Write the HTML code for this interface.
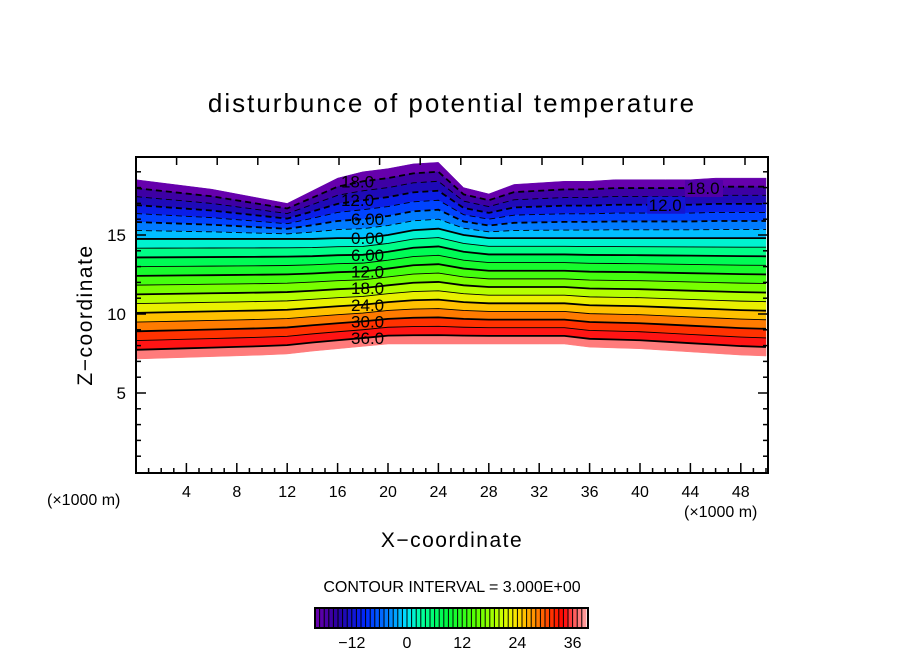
<!DOCTYPE html>
<html><head><meta charset="utf-8"><style>
body{margin:0;background:#fff;}
svg text{font-family:"Liberation Sans",sans-serif;fill:#000;}
</style></head><body>
<svg id="c" width="904" height="654" xmlns="http://www.w3.org/2000/svg">
<text x="452" y="112" text-anchor="middle" font-size="26" letter-spacing="2">disturbunce of potential temperature</text>
<g id="field"></g>
<g id="lines"></g>
<g id="labels"></g>
<rect x="136" y="157" width="632" height="316" fill="none" stroke="#000" stroke-width="2"/>
<g id="axes"></g>
<text transform="translate(92,315) rotate(-90)" text-anchor="middle" font-size="21" letter-spacing="1.5">Z−coordinate</text>
<text x="452" y="547" text-anchor="middle" font-size="21" letter-spacing="1.5">X−coordinate</text>
<text x="47" y="505" font-size="16">(×1000 m)</text>
<text x="684" y="517" font-size="16">(×1000 m)</text>
<text x="452" y="592" text-anchor="middle" font-size="16">CONTOUR INTERVAL = 3.000E+00</text>
<g id="cbar"></g>
</svg>
<script>
// x positions (km) and field-shape data (km heights)
const xs = [0,2,4,6,8,10,12,14,16,18,20,22,24,26,28,30,32,34,36,38,40,42,44,46,48,50];
const topZ = [18.5,18.3,18.1,17.9,17.6,17.3,17.0,17.8,18.6,19.0,19.2,19.5,19.6,18.0,17.6,18.2,18.3,18.4,18.4,18.5,18.5,18.5,18.5,18.6,18.6,18.6];
const zeroZ = [14.75,14.75,14.75,14.75,14.75,14.75,14.75,14.75,14.8,14.8,15.0,15.3,15.4,15.0,14.8,14.8,14.8,14.8,14.8,14.8,14.8,14.8,14.8,14.8,14.8,14.8];
const botZ = [7.15,7.2,7.25,7.3,7.35,7.4,7.47,7.65,7.8,7.95,8.1,8.1,8.1,8.1,8.1,8.1,8.1,8.1,7.9,7.85,7.8,7.7,7.6,7.5,7.4,7.34];
const levels = [-21,-18,-15,-12,-9,-6,-3,0,3,6,9,12,15,18,21,24,27,30,33,36,39];
const labelLevels = [-18,-12,-6,0,6,12,18,24,30,36];
const labelText = ["18.0","12.0","6.00","0.00","6.00","12.0","18.0","24.0","30.0","36.0"];
const xTicks = [4,8,12,16,20,24,28,32,36,40,44,48];
const yTicks = [5,10,15];
const cbarTicks = [-12,0,12,24,36];
const NS='http://www.w3.org/2000/svg';
const X0=136,PX=12.6,Y0=472,PY=15.8;
const sx=k=>X0+k*PX, sy=z=>Y0-z*PY;
const stops=[[-21,[122,0,176]],[-15,[40,0,160]],[-9,[0,40,255]],[-3,[0,150,255]],[0,[0,230,255]],[3,[0,255,160]],[9,[0,250,60]],[15,[90,255,0]],[21,[210,255,0]],[24,[255,225,0]],[27,[255,160,0]],[31,[255,60,0]],[34,[255,0,0]],[36,[255,80,80]],[39,[255,165,165]]];
function col(v){for(let i=0;i<stops.length-1;i++){const[a,ca]=stops[i],[b,cb]=stops[i+1];if(v<=b){const t=Math.max(0,(v-a)/(b-a));return 'rgb('+ca.map((c,j)=>Math.round(c+(cb[j]-c)*t)).join(',')+')';}}return 'rgb(255,165,165)';}
function zAt(i,v){return v<=0? zeroZ[i]+(topZ[i]-zeroZ[i])*(-v/21) : zeroZ[i]-(zeroZ[i]-botZ[i])*(v/39);}
function pts(v){return xs.map((x,i)=>[Math.min(sx(x),768),sy(zAt(i,v))]);}
function mk(tag,attrs,parent){const e=document.createElementNS(NS,tag);for(const k in attrs)e.setAttribute(k,attrs[k]);parent.appendChild(e);return e;}
const field=document.getElementById('field'),lines=document.getElementById('lines'),labels=document.getElementById('labels'),axes=document.getElementById('axes'),cbar=document.getElementById('cbar');
for(let l=0;l<levels.length-1;l++){
  const a=pts(levels[l]),b=pts(levels[l+1]).reverse();
  const p=mk('polygon',{points:a.concat(b).map(q=>q.join(',')).join(' '),fill:col((levels[l]+levels[l+1])/2),stroke:col((levels[l]+levels[l+1])/2),'stroke-width':0.5},field);
  
  
}
levels.slice(1,-1).forEach(v=>{
  const thick=(v%6===0);
  const a={points:pts(v).map(q=>q.join(',')).join(' '),fill:'none',stroke:'#000','stroke-width':thick?1.8:0.9};
  if(v<0)a['stroke-dasharray']='6,4';
  const pl=mk('polyline',a,lines);
  
  
});
labelLevels.forEach((v,i)=>{
  const k=v<=-12?17.5:18.3;
  const idx=xs.indexOf(18);
  const y=sy(zAt(idx,v))+6;
  const t=mk('text',{x:sx(k)+1,y:y,'text-anchor':'middle','font-size':17},labels);
  t.textContent=labelText[i];
  
  
});
[[-18,45],[-12,42]].forEach(([v,k])=>{
  const i=xs.indexOf(44);
  const y=sy(zAt(i,v))+6;
  mk('rect',{x:sx(k)-18,y:y-14,width:38,height:17,fill:col(v)},labels);
  const t=mk('text',{x:sx(k),y:y,'text-anchor':'middle','font-size':17},labels);
  t.textContent=(-v).toFixed(1);
  
  
});
for(let k=1;k<=50;k++){const x=sx(k);if(x>768)break;mk('line',{x1:x,x2:x,y1:473,y2:k%4===0?463:468,stroke:'#000','stroke-width':1.5},axes);}
for(let x=136+40.6;x<768;x+=40.6){mk('line',{x1:x,x2:x,y1:157,y2:165,stroke:'#000','stroke-width':1.5},axes);}
xTicks.forEach(k=>{const t=mk('text',{x:sx(k),y:497,'text-anchor':'middle','font-size':16},axes);t.textContent=k;});
for(let z=1;z<20;z++){const y=sy(z);mk('line',{x1:136,x2:z%5===0?146:141,y1:y,y2:y,stroke:'#000','stroke-width':1.5},axes);mk('line',{x1:768,x2:z%5===0?758:763,y1:y,y2:y,stroke:'#000','stroke-width':1.5},axes);}
yTicks.forEach(z=>{const t=mk('text',{x:126,y:sy(z)+6,'text-anchor':'end','font-size':17},axes);t.textContent=z;});
// colorbar
const cbX=x=>407+x*4.6;
for(let v=-20;v<39;v++){mk('rect',{x:cbX(v),y:609,width:4.6,height:18,fill:col(v+0.5)},cbar);mk('line',{x1:cbX(v),x2:cbX(v),y1:609,y2:627,stroke:'#000','stroke-width':1},cbar);}
mk('rect',{x:315,y:608,width:273,height:20,fill:'none',stroke:'#000','stroke-width':2},cbar);
cbarTicks.forEach(v=>{const t=mk('text',{x:cbX(v),y:648,'text-anchor':'middle','font-size':16},cbar);t.textContent=v<0?'−'+(-v):v;});
</script>
</body></html>
